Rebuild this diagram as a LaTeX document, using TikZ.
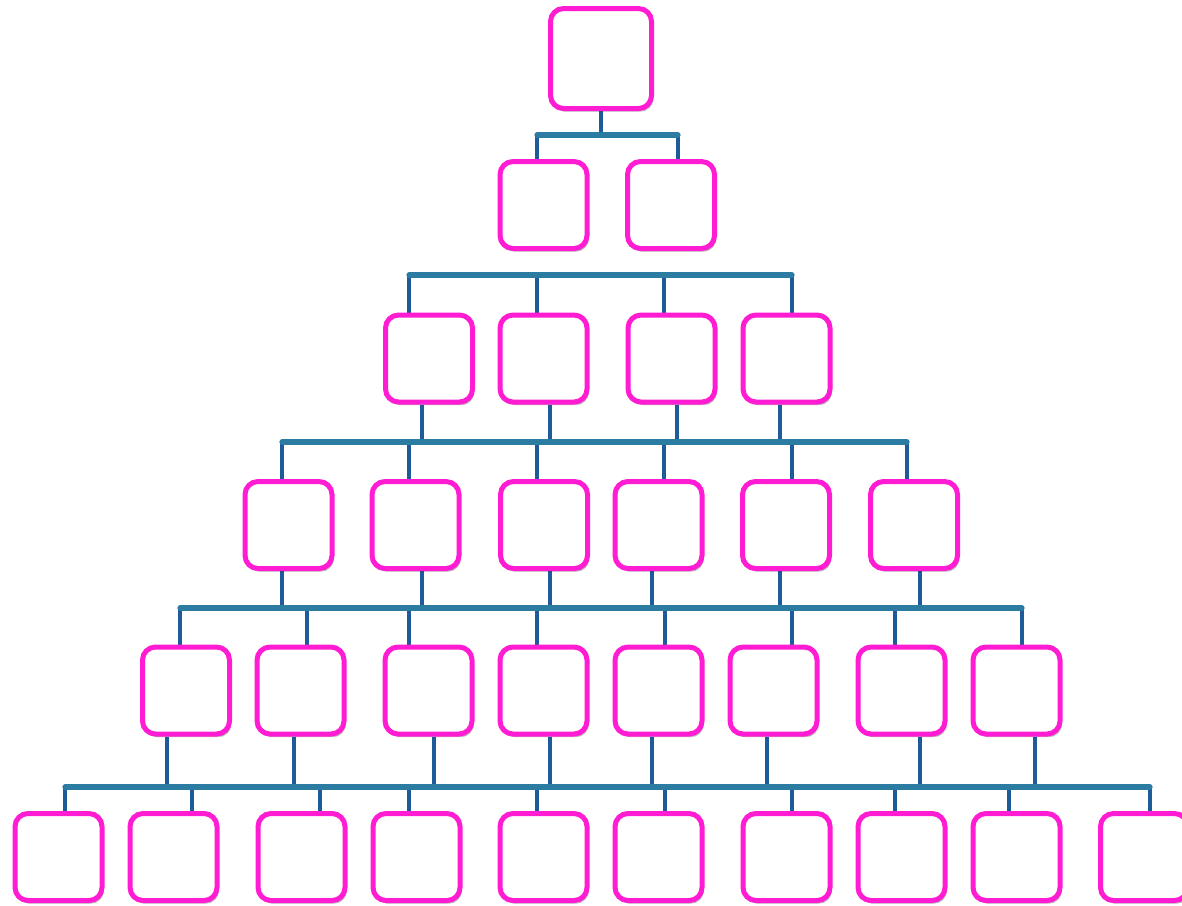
\documentclass[tikz,border=0pt]{standalone}
\usepackage{xcolor}
\usepackage{tikz}
\usetikzlibrary{shadows, backgrounds}

\definecolor{boxpink}{RGB}{255,28,210}
\definecolor{linkblue}{RGB}{30,91,154}
\definecolor{busblue}{RGB}{44,123,163}

\begin{document}
\begin{tikzpicture}[
  x=0.5pt, y=-0.5pt,
  box/.style={rectangle, rounded corners=6.5pt, draw=boxpink, line width=2.5pt,
    fill=white, minimum width=43.5pt, minimum height=43.5pt, inner sep=0pt,
    drop shadow={fill=black, opacity=0.28, shadow xshift=0.9pt, shadow yshift=-1.6pt}},
  topbox/.style={box, minimum width=50.5pt, minimum height=50pt},
  drop/.style={draw=linkblue, line width=2.2pt},
  bus/.style={draw=busblue, line width=2.6pt, line cap=round}
]
\clip (0,0) rectangle (1182,905);

% boxes, row by row
\node[topbox] (b0-1) at (601,58.5) {};
\foreach \x [count=\i] in {543.5,671}
  \node[box] (b1-\i) at (\x,205) {};
\foreach \x [count=\i] in {429,543.5,671.5,786.5}
  \node[box] (b2-\i) at (\x,358.5) {};
\foreach \x [count=\i] in {288.5,415.5,544,658.5,786,914}
  \node[box] (b3-\i) at (\x,525) {};
\foreach \x [count=\i] in {186,300.5,428.5,543.5,658.5,773.5,901.5,1016.5}
  \node[box] (b4-\i) at (\x,690.5) {};
\foreach \x [count=\i] in {58.5,173.5,301.5,416.5,543.5,658.5,786.5,901.5,1016.5,1144}
  \node[box] (b5-\i) at (\x,857) {};

\begin{pgfonlayer}{background}
% top -> row 1
\coordinate (u0-1) at (601,135);
\draw[drop] (b0-1.south -| u0-1) -- (u0-1);
\foreach \x [count=\i] in {537,678} {
  \coordinate (d1-\i) at (\x,135);
  \draw[drop] (d1-\i) -- (d1-\i |- b1-\i.north);
}
\draw[bus] (d1-1) -- (d1-2);

% row 2 hangs on its own bus
\foreach \x [count=\i] in {409,537,664,792} {
  \coordinate (d2-\i) at (\x,275);
  \draw[drop] (d2-\i) -- (d2-\i |- b2-\i.north);
}
\draw[bus] (d2-1) -- (d2-4);

% row 2 -> row 3
\foreach \x [count=\i] in {422,550,677,780} {
  \coordinate (u2-\i) at (\x,442);
  \draw[drop] (b2-\i.south -| u2-\i) -- (u2-\i);
}
\foreach \x [count=\i] in {282,409,537,664,792,907} {
  \coordinate (d3-\i) at (\x,442);
  \draw[drop] (d3-\i) -- (d3-\i |- b3-\i.north);
}
\draw[bus] (d3-1) -- (d3-6);

% row 3 -> row 4
\foreach \x [count=\i] in {282,422,550,652,780,920} {
  \coordinate (u3-\i) at (\x,608);
  \draw[drop] (b3-\i.south -| u3-\i) -- (u3-\i);
}
\foreach \x [count=\i] in {180,307,409,537,665,792,895,1022} {
  \coordinate (d4-\i) at (\x,608);
  \draw[drop] (d4-\i) -- (d4-\i |- b4-\i.north);
}
\draw[bus] (d4-1) -- (d4-8);

% row 4 -> row 5
\foreach \x [count=\i] in {167,294,434,550,652,767,920,1035} {
  \coordinate (u4-\i) at (\x,787);
  \draw[drop] (b4-\i.south -| u4-\i) -- (u4-\i);
}
\foreach \x [count=\i] in {65,192,320,409,537,665,792,895,1009,1150} {
  \coordinate (d5-\i) at (\x,787);
  \draw[drop] (d5-\i) -- (d5-\i |- b5-\i.north);
}
\draw[bus] (d5-1) -- (d5-10);
\end{pgfonlayer}
\end{tikzpicture}
\end{document}
